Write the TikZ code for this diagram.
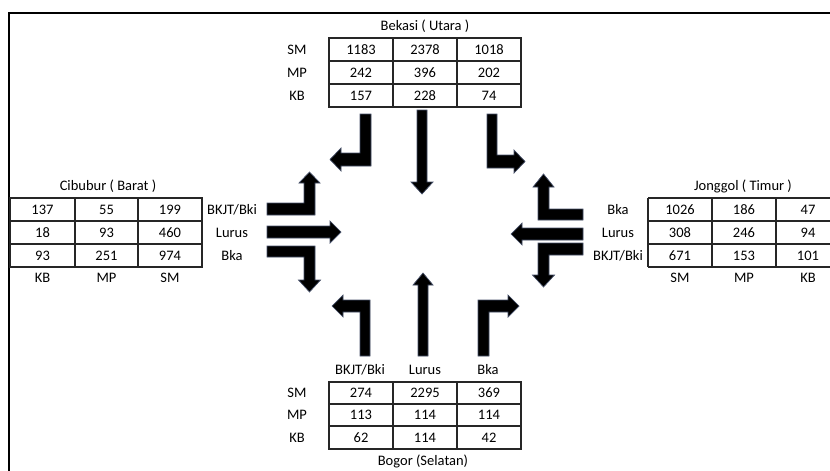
\documentclass[tikz,border=0pt]{standalone}
\usepackage{fontspec}
\setmainfont{Carlito}
\begin{document}
\begin{tikzpicture}[x=1pt,y=-1pt,
  txt/.style={font=\fontsize{14.5}{16}\selectfont, inner sep=0pt, anchor=center, text height=9pt, text depth=0pt},
  gridline/.style={draw=black!85, line width=1.3pt},
  blk/.style={fill=black, draw={rgb,255:red,70;green,80;blue,105}, line width=0.7pt, line join=miter},
  framestyle/.style={draw=black, line width=2.2pt}]
\useasboundingbox (0,0) rectangle (830,471);
\clip (0,0) rectangle (830,471);

% frame
\draw[framestyle] (9,471) -- (9,13) -- (830,13);

% ---------- top table (Bekasi) ----------
\draw[gridline] (329,38) rectangle (521,107);
\draw[gridline] (393,38) -- (393,107) (457,38) -- (457,107) (329,61) -- (521,61) (329,84) -- (521,84);
\node[txt] (ttitle) at (425,26) {Bekasi ( Utara )};
\node[txt] (tl1) at (297,49.5) {SM};
\node[txt] (tl2) at (297,72.5) {MP};
\node[txt] (tl3) at (297,95.5) {KB};
\node[txt] (t11) at (361,49.5) {1183};
\node[txt] (t12) at (425,49.5) {2378};
\node[txt] (t13) at (489,49.5) {1018};
\node[txt] (t21) at (361,72.5) {242};
\node[txt] (t22) at (425,72.5) {396};
\node[txt] (t23) at (489,72.5) {202};
\node[txt] (t31) at (361,95.5) {157};
\node[txt] (t32) at (425,95.5) {228};
\node[txt] (t33) at (489,95.5) {74};

% ---------- left table (Cibubur) ----------
\draw[gridline] (10,198) rectangle (202,267);
\draw[gridline] (75,198) -- (75,267) (138,198) -- (138,267) (10,221) -- (202,221) (10,244) -- (202,244);
\node[txt] (ltitle) at (108,186) {Cibubur ( Barat )};
\node[txt] (l11) at (42.5,209.5) {137};
\node[txt] (l12) at (106.5,209.5) {55};
\node[txt] (l13) at (170,209.5) {199};
\node[txt] (l21) at (42.5,232.5) {18};
\node[txt] (l22) at (106.5,232.5) {93};
\node[txt] (l23) at (170,232.5) {460};
\node[txt] (l31) at (42.5,255.5) {93};
\node[txt] (l32) at (106.5,255.5) {251};
\node[txt] (l33) at (170,255.5) {974};
\node[txt] (lc1) at (42.5,278) {KB};
\node[txt] (lc2) at (106.5,278) {MP};
\node[txt] (lc3) at (170,278) {SM};
\node[txt] (lr1) at (232,209.5) {BKJT/Bki};
\node[txt] (lr2) at (232,232.5) {Lurus};
\node[txt] (lr3) at (232,255.5) {Bka};

% ---------- right table (Jonggol) ----------
\draw[gridline] (648,198) -- (840,198) (648,267) -- (840,267) (648,198) -- (648,267);
\draw[gridline] (712,198) -- (712,267) (776,198) -- (776,267) (648,221) -- (840,221) (648,244) -- (840,244);
\node[txt] (rtitle) at (743,186) {Jonggol ( Timur )};
\node[txt] (r11) at (680,209.5) {1026};
\node[txt] (r12) at (744,209.5) {186};
\node[txt] (r13) at (808,209.5) {47};
\node[txt] (r21) at (680,232.5) {308};
\node[txt] (r22) at (744,232.5) {246};
\node[txt] (r23) at (808,232.5) {94};
\node[txt] (r31) at (680,255.5) {671};
\node[txt] (r32) at (744,255.5) {153};
\node[txt] (r33) at (808,255.5) {101};
\node[txt] (rc1) at (680,278) {SM};
\node[txt] (rc2) at (744,278) {MP};
\node[txt] (rc3) at (808,278) {KB};
\node[txt] (rr1) at (618,209.5) {Bka};
\node[txt] (rr2) at (618,232.5) {Lurus};
\node[txt] (rr3) at (618,255.5) {BKJT/Bki};

% ---------- bottom table (Bogor) ----------
\draw[gridline] (329,382) rectangle (521,449);
\draw[gridline] (393,382) -- (393,449) (457,382) -- (457,449) (329,404) -- (521,404) (329,426) -- (521,426);
\node[txt] (btitle) at (423,461) {Bogor (Selatan)};
\node[txt] (bc1) at (360,370) {BKJT/Bki};
\node[txt] (bc2) at (425,370) {Lurus};
\node[txt] (bc3) at (488,370) {Bka};
\node[txt] (bl1) at (297,393) {SM};
\node[txt] (bl2) at (297,415) {MP};
\node[txt] (bl3) at (297,437.5) {KB};
\node[txt] (b11) at (361,393) {274};
\node[txt] (b12) at (425,393) {2295};
\node[txt] (b13) at (489,393) {369};
\node[txt] (b21) at (361,415) {113};
\node[txt] (b22) at (425,415) {114};
\node[txt] (b23) at (489,415) {114};
\node[txt] (b31) at (361,437.5) {62};
\node[txt] (b32) at (425,437.5) {114};
\node[txt] (b33) at (489,437.5) {42};

% ---------- arrows from north ----------
\path[blk] (360,114) -- (371,114) -- (371,166) -- (341,166) -- (341,171) -- (330,159.5) -- (341,148) -- (341,153) -- (360,153) -- cycle;
\path[blk] (417,110) -- (427,110) -- (427,182) -- (433,182) -- (422,194) -- (411,182) -- (417,182) -- cycle;
\path[blk] (487,114) -- (497,114) -- (497,155) -- (514,155) -- (514,150) -- (525,161.5) -- (514,173) -- (514,168) -- (487,168) -- cycle;

% ---------- arrows from west ----------
\path[blk] (267,203) -- (304,203) -- (304,183) -- (299,183) -- (309.5,172) -- (320,183) -- (315,183) -- (315,215) -- (267,215) -- cycle;
\path[blk] (267,226) -- (330,226) -- (330,221) -- (341,232) -- (330,243) -- (330,238) -- (267,238) -- cycle;
\path[blk] (267,246) -- (315,246) -- (315,280) -- (320.5,280) -- (309.5,292) -- (298.5,280) -- (304,280) -- (304,257) -- (267,257) -- cycle;

% ---------- arrows from east ----------
\path[blk] (583,209) -- (549,209) -- (549,187) -- (554,187) -- (543.5,174) -- (533,187) -- (538,187) -- (538,220) -- (583,220) -- cycle;
\path[blk] (583,228) -- (522,228) -- (522,223) -- (511,234) -- (522,245) -- (522,240) -- (583,240) -- cycle;
\path[blk] (583,243) -- (538,243) -- (538,275) -- (532.5,275) -- (543.5,287) -- (554.5,275) -- (549,275) -- (549,255) -- (583,255) -- cycle;

% ---------- arrows from south ----------
\path[blk] (360,356) -- (370,356) -- (370,300) -- (343,300) -- (343,295) -- (332,306) -- (343,317) -- (343,312) -- (360,312) -- cycle;
\path[blk] (418,356) -- (428,356) -- (428,285) -- (433,285) -- (423,273) -- (413,285) -- (418,285) -- cycle;
\path[blk] (478,356) -- (489,356) -- (489,312) -- (508,312) -- (508,317) -- (519,306) -- (508,295) -- (508,300) -- (478,300) -- cycle;
\end{tikzpicture}
\end{document}
